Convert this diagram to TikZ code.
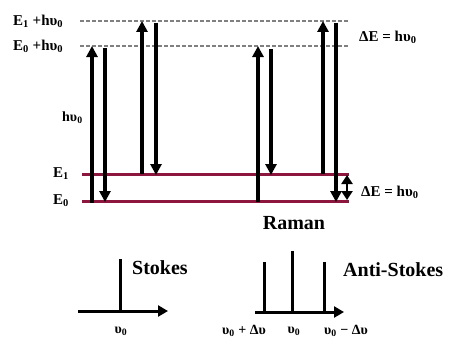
\documentclass[tikz,border=0pt]{standalone}
\usepackage{fontspec}
\setmainfont{Liberation Serif}
\usepackage{tikz}
\usetikzlibrary{arrows.meta}
\definecolor{levelred}{RGB}{140,22,62}

\begin{document}
\begin{tikzpicture}[x=1pt,y=-1pt,
  font=\bfseries\fontsize{15}{17}\selectfont,
  every node/.style={inner sep=0pt},
  jump/.style={line width=3.2pt,-{Triangle[length=11pt,width=11pt]}},
  virtual/.style={gray,line width=1.2pt,dash pattern=on 4pt off 2pt},
  level/.style={levelred,line width=3pt},
  axis/.style={line width=3pt,-{Triangle[length=10pt,width=11pt]}},
  peak/.style={line width=3pt},
  big/.style={font=\bfseries\fontsize{20}{22}\selectfont}]
  \useasboundingbox (0,0) rectangle (449,345);

  % virtual levels
  \draw[virtual] (80,21) -- (349,21);
  \draw[virtual] (80,46) -- (349,46);
  \node[anchor=west] (topv) at (13,21) {E\textsubscript{1} +hυ\textsubscript{0}};
  \node[anchor=west] (lowv) at (13,46) {E\textsubscript{0} +hυ\textsubscript{0}};

  % real levels
  \draw[level] (82,174) -- (349,174);
  \draw[level] (82,201) -- (349,201);
  \node[anchor=west] (eone) at (53,174) {E\textsubscript{1}};
  \node[anchor=west] (ezero) at (53,201) {E\textsubscript{0}};
  \node[anchor=west,font=\bfseries\fontsize{14}{16}\selectfont] (hv) at (62,118) {hυ\textsubscript{0}};

  % Rayleigh
  \draw[jump] (92,203) -- (92,46);
  \draw[jump] (105,48) -- (105,202);
  \draw[jump] (142,174) -- (142,21);
  \draw[jump] (156,23) -- (156,175);

  % Raman
  \draw[jump] (258,202) -- (258,46);
  \draw[jump] (271,49) -- (271,175);
  \draw[jump] (323,174) -- (323,21);
  \draw[jump] (336,23) -- (336,202);
  \draw[line width=2.8pt,{Triangle[length=9pt,width=11pt]}-{Triangle[length=9pt,width=11pt]}] (347,175) -- (347,200);
  \node[anchor=west] (gaptop) at (359,37) {ΔE = hυ\textsubscript{0}};
  \node[anchor=west] (gapbot) at (361,192) {ΔE = hυ\textsubscript{0}};
  \node[big] (raman) at (294,223) {Raman};

  % Stokes spectrum
  \draw[axis] (78,311) -- (168,311);
  \draw[peak] (120,311) -- (120,259);
  \node[big,anchor=west] (stokes) at (132,268) {Stokes};
  \node[font=\bfseries\fontsize{14}{16}\selectfont] (nuzero) at (121,331) {υ\textsubscript{0}};

  % Anti-Stokes spectrum
  \draw[axis] (255,312) -- (344,312);
  \draw[peak] (264,312) -- (264,262);
  \draw[peak] (292,312) -- (292,251);
  \draw[peak] (324,312) -- (324,262);
  \node[big,anchor=west] (anti) at (343,270) {Anti-Stokes};
  \node[font=\bfseries\fontsize{14}{16}\selectfont] (nuplus) at (244,331) {υ\textsubscript{0} + Δυ};
  \node[font=\bfseries\fontsize{14}{16}\selectfont] (numid) at (294,331) {υ\textsubscript{0}};
  \node[font=\bfseries\fontsize{14}{16}\selectfont] (numinus) at (346,331) {υ\textsubscript{0} − Δυ};
\end{tikzpicture}
\end{document}
